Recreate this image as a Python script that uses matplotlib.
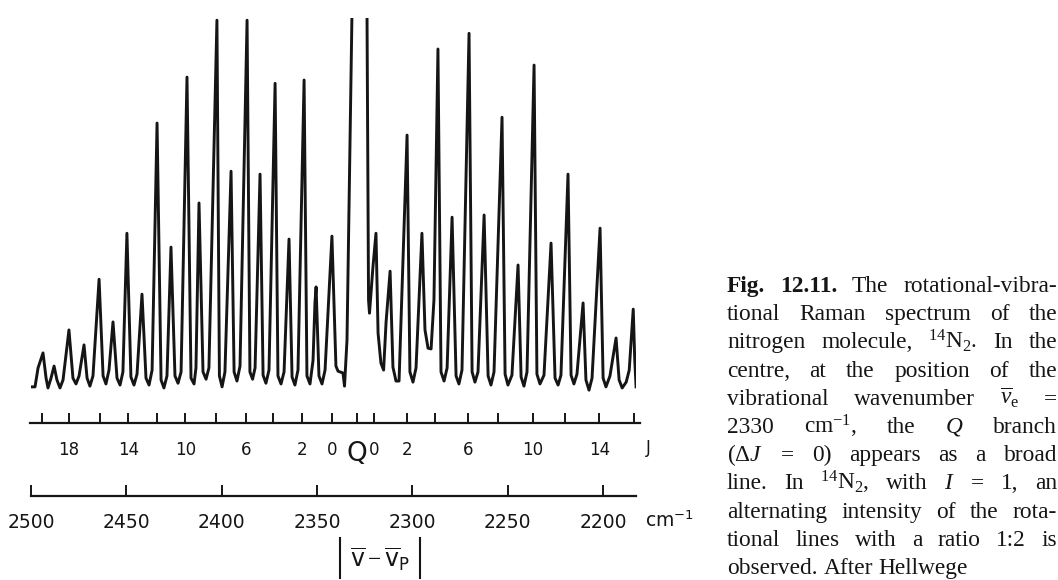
import matplotlib
matplotlib.use("Agg")
import matplotlib.pyplot as plt
from matplotlib.lines import Line2D

plt.rcParams["mathtext.fontset"] = "custom"
plt.rcParams["mathtext.rm"] = "Liberation Serif"
plt.rcParams["mathtext.it"] = "Liberation Serif:italic"
plt.rcParams["mathtext.bf"] = "Liberation Serif:bold"
plt.rcParams["mathtext.sf"] = "DejaVu Sans"

# spectrum trace (wavenumber in cm-1, relative intensity)
trace_cm = [
    2500.0, 2497.9, 2496.3, 2493.7, 2492.1, 2491.1, 2489.5, 2487.9, 2486.4, 2484.8,
    2483.2, 2480.1, 2478.0, 2476.4, 2474.8, 2472.2, 2470.6, 2469.1, 2467.5, 2464.3,
    2462.2, 2460.7, 2459.1, 2457.0, 2454.9, 2453.3, 2451.8, 2449.7, 2447.6, 2446.0,
    2444.4, 2441.8, 2439.7, 2438.1, 2436.5, 2433.9, 2431.8, 2430.3, 2428.7, 2426.6,
    2424.5, 2422.9, 2421.3, 2418.2, 2416.1, 2414.5, 2413.5, 2411.9, 2409.8, 2408.2,
    2406.7, 2402.5, 2401.2, 2399.8, 2398.3, 2395.1, 2393.5, 2392.0, 2390.4, 2386.7,
    2385.2, 2383.8, 2382.5, 2379.9, 2378.3, 2376.8, 2375.2, 2372.0, 2370.5, 2368.9,
    2367.3, 2364.7, 2363.1, 2361.6, 2360.0, 2356.8, 2355.3, 2353.7, 2352.1, 2351.1,
    2350.5, 2349.0, 2347.4, 2345.8, 2342.2, 2340.1, 2339.0, 2336.4, 2335.6, 2334.3,
    2331.7, 2328.0, 2323.8, 2323.0, 2322.5, 2320.7, 2319.1, 2318.0, 2316.5, 2315.1,
    2313.8, 2311.7, 2310.2, 2308.6, 2307.0, 2302.8, 2301.3, 2299.7, 2298.1, 2295.0,
    2293.4, 2291.8, 2290.2, 2288.7, 2286.6, 2285.0, 2283.4, 2281.8, 2279.2, 2277.1,
    2275.6, 2274.0, 2270.3, 2268.7, 2267.2, 2265.6, 2262.4, 2260.3, 2258.8, 2257.2,
    2253.0, 2251.4, 2249.9, 2247.8, 2244.6, 2243.0, 2241.5, 2239.9, 2236.2, 2234.7,
    2233.1, 2231.0, 2227.3, 2225.2, 2223.6, 2222.1, 2218.4, 2216.8, 2215.3, 2213.7,
    2210.5, 2209.0, 2207.4, 2205.8, 2201.6, 2200.0, 2198.5, 2196.4, 2193.2, 2191.6,
    2190.0, 2187.9, 2186.3, 2184.2, 2183.4, 2182.7,
]
trace_int = [
    -0.5, -0.5, 4.7, 8.8, 1.9, -0.8, 1.9, 5.2, 1.4, -0.8,
    1.4, 15.1, 1.9, 0.3, 2.5, 11.0, 1.9, -0.3, 2.5, 29.0,
    2.5, 0.3, 4.1, 17.3, 1.9, 0.0, 3.6, 41.6, 2.2, 0.0,
    3.0, 24.9, 1.9, 0.0, 4.1, 71.8, 1.4, -0.8, 2.5, 37.8,
    2.5, 0.5, 3.6, 84.4, 1.9, 0.3, 4.7, 49.9, 3.6, 1.6,
    4.7, 100.0, 2.5, -0.5, 3.6, 58.6, 3.6, 1.1, 5.2, 100.0,
    3.6, 1.6, 4.7, 57.8, 2.7, 0.5, 4.1, 82.7, 2.5, 0.3,
    3.6, 40.0, 2.2, 0.0, 4.1, 83.6, 2.5, 0.3, 6.8, 22.5,
    26.9, 2.5, 0.3, 4.1, 40.8, 5.2, 3.8, 3.3, -0.3, 12.3,
    101.4, 187.7, 101.4, 23.3, 19.7, 32.3, 41.6, 14.2, 6.0, 4.1,
    17.3, 31.2, 4.9, 1.1, 1.1, 68.5, 3.6, 0.8, 4.7, 41.6,
    15.1, 10.1, 9.9, 23.3, 92.1, 3.6, 1.1, 4.7, 46.0, 2.5,
    0.3, 4.1, 96.4, 3.6, 0.8, 3.6, 46.6, 2.5, 0.0, 3.6,
    73.4, 3.0, 0.0, 2.7, 32.9, 2.2, -0.3, 3.6, 87.7, 3.0,
    0.3, 2.7, 38.9, 1.9, 0.0, 2.7, 57.8, 2.7, 0.3, 3.0,
    22.5, 1.4, -1.4, 1.9, 43.0, 1.9, -0.5, 2.5, 12.9, 1.4,
    -0.8, 0.8, 4.1, 20.8, 6.8, -0.5,
]

# J scale: tick positions (cm-1) and labels
j_ticks = [2494, 2480, 2464, 2449, 2434, 2419, 2403, 2387, 2373, 2358, 2342,
           2329,
           2320, 2303, 2288, 2271, 2255, 2237, 2220, 2202, 2184]
j_labels = ["", "18", "", "14", "", "10", "", "6", "", "2", "0",
            "Q",
            "0", "2", "", "6", "", "10", "", "14", ""]

cm_ticks = [2500, 2450, 2400, 2350, 2300, 2250, 2200]

caption = [
    "Fig. 12.11. The rotational-vibra-",
    "tional Raman spectrum of the",
    r"nitrogen molecule, $^{14}$N$_2$. In the",
    "centre, at the position of the",
    r"vibrational wavenumber $\overline{\nu}_\mathrm{e}$ =",
    r"2330 cm$^{-1}$, the $Q$ branch",
    r"($\mathit{\Delta}J$ = 0) appears as a broad",
    r"line. In $^{14}$N$_2$, with $I$ = 1, an",
    "alternating intensity of the rota-",
    "tional lines with a ratio 1:2 is",
    "observed. After Hellwege",
]

W, H = 1058, 580
fig = plt.figure(figsize=(W / 100, H / 100), dpi=100)
fig.patch.set_facecolor("white")


def box(left, top, right, bottom):
    return [left / W, 1 - bottom / H, (right - left) / W, (bottom - top) / H]


X0, PX_PER_CM = 31, 1.907


def nu(px):
    return 2500 - (px - X0) / PX_PER_CM


ink = "#151515"

# spectrum
ax = fig.add_axes(box(31, 18, 636, 400))
ax.plot(trace_cm, trace_int, color=ink, lw=2.1, solid_joinstyle="round")
ax.set_xlim(nu(31), nu(636))
ax.set_ylim(-4.1, 100.6)
ax.axis("off")


def scale_axis(rect, xl, ticks, labels, fs, pad, tlen):
    a = fig.add_axes(rect)
    a.set_xlim(*xl)
    a.set_ylim(0, 1)
    a.patch.set_alpha(0)
    for s in ["left", "right", "top"]:
        a.spines[s].set_visible(False)
    a.spines["bottom"].set_linewidth(1.6)
    a.spines["bottom"].set_color(ink)
    a.set_yticks([])
    a.set_xticks(ticks)
    a.set_xticklabels(labels, fontsize=fs, fontfamily="DejaVu Sans", color=ink)
    a.tick_params(axis="x", direction="in", length=tlen, width=1.4, color=ink, pad=pad)
    return a


axJ = scale_axis(box(30, 395, 640, 423), (nu(30), nu(640)), j_ticks, j_labels, 12, 13, 7)
for t in axJ.get_xticklabels():
    if t.get_text() == "Q":
        t.set_fontsize(19)

axC = scale_axis(box(31, 470, 636, 496), (nu(31), nu(636)), cm_ticks,
                 [str(v) for v in cm_ticks], 13.5, 12, 8)

fig.text(648 / W, 1 - 448 / H, "J", ha="center", va="center", fontsize=12,
         fontfamily="DejaVu Sans", color=ink)
fig.text(645 / W, 1 - 521 / H, r"cm$^{\mathsf{-1}}$", ha="left", va="center",
         fontsize=13.5, fontfamily="DejaVu Sans", color=ink)

# |v - vP| label
fig.text(380 / W, 1 - 559 / H, r"$\overline{\mathsf{v}}-\overline{\mathsf{v}}_{\mathsf{P}}$",
         ha="center", va="center", fontsize=17, color=ink)
for xb in (340, 420):
    fig.add_artist(Line2D([xb / W, xb / W], [1 - 538 / H, 1 - 578 / H],
                          transform=fig.transFigure, color=ink, lw=1.5))

# justified caption
renderer = fig.canvas.get_renderer()
L, R = 727, 1057
fs_cap = 16.8
for k, line in enumerate(caption):
    words = line.split(" ")
    y = 1 - (292.0 + 28.2 * k) / H
    objs = []
    for i, w in enumerate(words):
        bold = k == 0 and i < 2
        t = fig.text(0, y, w, ha="left", va="baseline", fontsize=fs_cap,
                     fontfamily="Liberation Serif", color=ink,
                     fontweight="bold" if bold else "normal")
        objs.append(t)
    widths = [t.get_window_extent(renderer).width for t in objs]
    if k == len(caption) - 1:
        gap = 0.25 * fs_cap * 100 / 72
    else:
        gap = (R - L - sum(widths)) / (len(words) - 1)
    x = L
    for t, wd in zip(objs, widths):
        t.set_x(x / W)
        x += wd + gap

fig.savefig("out.png", dpi=100, facecolor="white")
